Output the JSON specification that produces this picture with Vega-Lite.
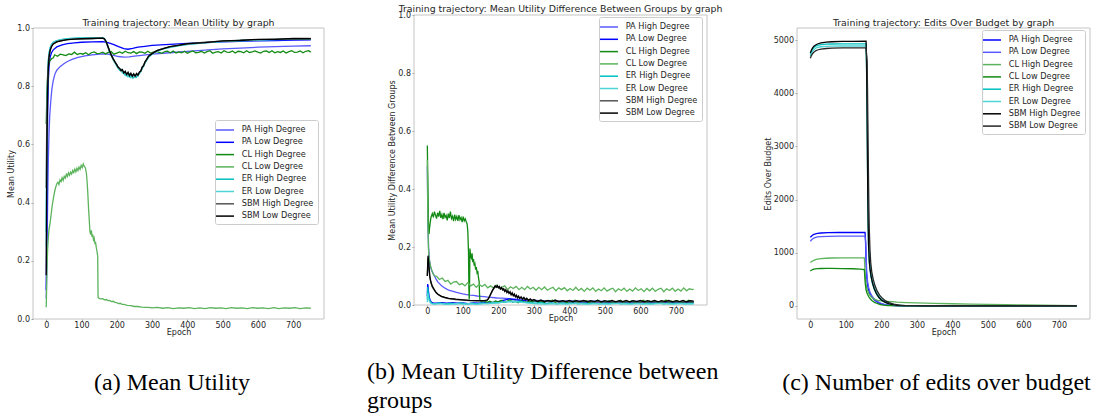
{
"$schema": "https://vega.github.io/schema/vega-lite/v6.json",
"autosize": {"type": "pad"},
"padding": {"left": 7, "top": 3, "right": 0, "bottom": 0},
"background": "white",
"config": {
 "font": "DejaVu Sans",
 "view": {"stroke": null},
 "axis": {"grid": false, "domain": false, "tickColor": "#808080", "tickSize": 2, "tickWidth": 0.8, "labelFont": "DejaVu Sans", "labelFontSize": 8, "labelColor": "#262626", "labelPadding": 1.5, "labelOverlap": false, "labelFlush": false, "titleFont": "DejaVu Sans", "titleFontSize": 8, "titleFontWeight": "normal", "titleColor": "#262626", "titlePadding": 1},
 "axisX": {"labelPadding": 0, "titlePadding": -1},
 "title": {"font": "DejaVu Sans", "fontSize": 9.4, "fontWeight": "normal", "color": "#262626"},
 "legend": {"orient": "none", "title": null, "symbolType": "M-1.8,0H1.8", "symbolSize": 100, "symbolStrokeWidth": 1.5, "labelFont": "DejaVu Sans", "labelFontSize": 8.2, "labelColor": "#262626", "labelOffset": 10.7, "rowPadding": 2.3, "padding": 4, "strokeColor": "#cccccc", "fillColor": "#ffffff", "cornerRadius": 2, "labelLimit": 200}
},
"resolve": {"scale": {"x": "independent", "y": "independent", "color": "independent"}, "legend": {"color": "independent"}, "axis": {"x": "independent", "y": "independent"}},
"columns": 3,
"spacing": {"row": 0, "column": 90},
"bounds": "flush",
"concat": [
 {"width": 291, "height": 304,
  "title": {"text": "Training trajectory: Mean Utility by graph", "offset": -13.5},
  "layer": [
   {"data": {"values": [{"f": 1}]}, "mark": {"type": "rect", "fill": null, "stroke": "#c4c4c4", "strokeWidth": 1},
    "encoding": {"x": {"datum": -37.5, "type": "quantitative"}, "x2": {"datum": 787.5}, "y": {"datum": 0, "type": "quantitative"}, "y2": {"datum": 1}}},
   {"data": {"name": "util"},
    "mark": {"type": "line", "strokeWidth": 1.3, "clip": true},
    "encoding": {
     "x": {"field": "e", "type": "quantitative", "scale": {"domain": [-37.5, 787.5], "nice": false, "zero": false}, "axis": {"title": "Epoch", "values": [0,100,200,300,400,500,600,700]}},
     "y": {"field": "v", "type": "quantitative", "scale": {"domain": [0, 1], "nice": false, "range": [304, 13]}, "axis": {"title": "Mean Utility", "values": [0,0.2,0.4,0.6,0.8,1.0], "format": ".1f"}},
     "color": {"field": "s", "type": "nominal", "scale": {"domain": ["PA High Degree","PA Low Degree","CL High Degree","CL Low Degree","ER High Degree","ER Low Degree","SBM High Degree","SBM Low Degree"], "range": ["#5a5aff","#0000ff","#138a13","#5cb35c","#00bfbf","#4dd4d4","#555555","#000000"]}, "legend": {"legendX": 182, "legendY": 105}}
    }}
  ]},
 {"width": 293, "height": 304,
  "title": {"text": "Training trajectory: Mean Utility Difference Between Groups by graph", "offset": -3},
  "layer": [
   {"data": {"values": [{"f": 1}]}, "mark": {"type": "rect", "fill": null, "stroke": "#c4c4c4", "strokeWidth": 1},
    "encoding": {"x": {"datum": -37.5, "type": "quantitative"}, "x2": {"datum": 787.5}, "y": {"datum": 0, "type": "quantitative"}, "y2": {"datum": 1}}},
   {"data": {"name": "diff"},
    "mark": {"type": "line", "strokeWidth": 1.3, "clip": true},
    "encoding": {
     "x": {"field": "e", "type": "quantitative", "scale": {"domain": [-37.5, 787.5], "nice": false, "zero": false}, "axis": {"title": "Epoch", "values": [0,100,200,300,400,500,600,700], "offset": -14}},
     "y": {"field": "v", "type": "quantitative", "scale": {"domain": [0, 1], "nice": false, "range": [290, 0]}, "axis": {"title": "Mean Utility Difference Between Groups", "values": [0,0.2,0.4,0.6,0.8,1.0], "format": ".1f"}},
     "color": {"field": "s", "type": "nominal", "scale": {"domain": ["PA High Degree","PA Low Degree","CL High Degree","CL Low Degree","ER High Degree","ER Low Degree","SBM High Degree","SBM Low Degree"], "range": ["#5a5aff","#0000ff","#138a13","#5cb35c","#00bfbf","#4dd4d4","#555555","#000000"]}, "legend": {"legendX": 185, "legendY": 2}}
    }}
  ]},
 {"width": 293, "height": 304,
  "title": {"text": "Training trajectory: Edits Over Budget by graph", "offset": -13.5},
  "layer": [
   {"data": {"values": [{"f": 1}]}, "mark": {"type": "rect", "fill": null, "stroke": "#c4c4c4", "strokeWidth": 1},
    "encoding": {"x": {"datum": -37.5, "type": "quantitative"}, "x2": {"datum": 787.5}, "y": {"datum": -249, "type": "quantitative"}, "y2": {"datum": 5229}}},
   {"data": {"name": "edits"},
    "mark": {"type": "line", "strokeWidth": 1.3, "clip": true},
    "encoding": {
     "x": {"field": "e", "type": "quantitative", "scale": {"domain": [-37.5, 787.5], "nice": false, "zero": false}, "axis": {"title": "Epoch", "values": [0,100,200,300,400,500,600,700]}},
     "y": {"field": "v", "type": "quantitative", "scale": {"domain": [-249, 5229], "nice": false, "zero": false, "range": [304, 13]}, "axis": {"title": "Edits Over Budget", "values": [0,1000,2000,3000,4000,5000], "format": "d"}},
     "color": {"field": "s", "type": "nominal", "scale": {"domain": ["PA High Degree","PA Low Degree","CL High Degree","CL Low Degree","ER High Degree","ER Low Degree","SBM High Degree","SBM Low Degree"], "range": ["#0000ff","#5a5aff","#5cb35c","#138a13","#00bfbf","#4dd4d4","#000000","#262626"]}, "legend": {"legendX": 185, "legendY": 15}}
    }}
  ]},
 {"width": 291, "height": 100, "data": {"values": [{"t": "(a) Mean Utility"}]}, "mark": {"type": "text", "font": "Liberation Serif", "fontSize": 24, "color": "#000000", "baseline": "middle", "dy": 14, "dx": -6.5}, "encoding": {"text": {"field": "t"}}},
 {"width": 293, "height": 100, "data": {"values": [{"t": "(b) Mean Utility Difference between\ngroups"}]}, "mark": {"type": "text", "font": "Liberation Serif", "fontSize": 24, "color": "#000000", "baseline": "top", "align": "left", "lineBreak": "\n", "lineHeight": 29, "dy": -9, "dx": -193.5}, "encoding": {"text": {"field": "t"}}},
 {"width": 293, "height": 100, "data": {"values": [{"t": "(c) Number of edits over budget"}]}, "mark": {"type": "text", "font": "Liberation Serif", "fontSize": 24, "color": "#000000", "baseline": "middle", "dy": 14, "dx": -7}, "encoding": {"text": {"field": "t"}}}
],
"datasets": {
"util": [
{"s":"PA High Degree","e":0,"v":0.07},{"s":"PA High Degree","e":2,"v":0.2},{"s":"PA High Degree","e":4,"v":0.4},{"s":"PA High Degree","e":6,"v":0.55},{"s":"PA High Degree","e":8,"v":0.64},{"s":"PA High Degree","e":10,"v":0.7},{"s":"PA High Degree","e":13,"v":0.75},{"s":"PA High Degree","e":16,"v":0.79},{"s":"PA High Degree","e":20,"v":0.82},{"s":"PA High Degree","e":25,"v":0.843},{"s":"PA High Degree","e":30,"v":0.855},{"s":"PA High Degree","e":40,"v":0.868},{"s":"PA High Degree","e":50,"v":0.877},{"s":"PA High Degree","e":60,"v":0.885},{"s":"PA High Degree","e":75,"v":0.893},{"s":"PA High Degree","e":90,"v":0.899},{"s":"PA High Degree","e":110,"v":0.904},{"s":"PA High Degree","e":130,"v":0.908},{"s":"PA High Degree","e":160,"v":0.911},{"s":"PA High Degree","e":175,"v":0.91},{"s":"PA High Degree","e":190,"v":0.906},{"s":"PA High Degree","e":205,"v":0.902},{"s":"PA High Degree","e":220,"v":0.9},{"s":"PA High Degree","e":235,"v":0.901},{"s":"PA High Degree","e":250,"v":0.903},{"s":"PA High Degree","e":270,"v":0.906},{"s":"PA High Degree","e":300,"v":0.91},{"s":"PA High Degree","e":350,"v":0.915},{"s":"PA High Degree","e":400,"v":0.92},{"s":"PA High Degree","e":450,"v":0.924},{"s":"PA High Degree","e":500,"v":0.928},{"s":"PA High Degree","e":550,"v":0.931},{"s":"PA High Degree","e":600,"v":0.934},{"s":"PA High Degree","e":650,"v":0.936},{"s":"PA High Degree","e":700,"v":0.938},{"s":"PA High Degree","e":750,"v":0.939},
{"s":"PA Low Degree","e":0,"v":0.1},{"s":"PA Low Degree","e":2,"v":0.45},{"s":"PA Low Degree","e":4,"v":0.7},{"s":"PA Low Degree","e":6,"v":0.82},{"s":"PA Low Degree","e":8,"v":0.87},{"s":"PA Low Degree","e":11,"v":0.9},{"s":"PA Low Degree","e":15,"v":0.915},{"s":"PA Low Degree","e":20,"v":0.925},{"s":"PA Low Degree","e":30,"v":0.935},{"s":"PA Low Degree","e":45,"v":0.942},{"s":"PA Low Degree","e":60,"v":0.946},{"s":"PA Low Degree","e":80,"v":0.949},{"s":"PA Low Degree","e":100,"v":0.951},{"s":"PA Low Degree","e":130,"v":0.952},{"s":"PA Low Degree","e":160,"v":0.953},{"s":"PA Low Degree","e":175,"v":0.95},{"s":"PA Low Degree","e":190,"v":0.944},{"s":"PA Low Degree","e":205,"v":0.936},{"s":"PA Low Degree","e":220,"v":0.929},{"s":"PA Low Degree","e":232,"v":0.927},{"s":"PA Low Degree","e":245,"v":0.93},{"s":"PA Low Degree","e":260,"v":0.934},{"s":"PA Low Degree","e":280,"v":0.937},{"s":"PA Low Degree","e":300,"v":0.94},{"s":"PA Low Degree","e":350,"v":0.944},{"s":"PA Low Degree","e":400,"v":0.947},{"s":"PA Low Degree","e":450,"v":0.95},{"s":"PA Low Degree","e":500,"v":0.952},{"s":"PA Low Degree","e":550,"v":0.954},{"s":"PA Low Degree","e":600,"v":0.956},{"s":"PA Low Degree","e":650,"v":0.957},{"s":"PA Low Degree","e":700,"v":0.958},{"s":"PA Low Degree","e":750,"v":0.959},
{"s":"CL High Degree","e":0,"v":0.67},{"s":"CL High Degree","e":2,"v":0.78},{"s":"CL High Degree","e":4,"v":0.84},{"s":"CL High Degree","e":6,"v":0.87},{"s":"CL High Degree","e":9,"v":0.885},{"s":"CL High Degree","e":12,"v":0.89},{"s":"CL High Degree","e":16,"v":0.895},{"s":"CL High Degree","e":20,"v":0.898},{"s":"CL High Degree","e":24,"v":0.908},{"s":"CL High Degree","e":32,"v":0.903},{"s":"CL High Degree","e":40,"v":0.91},{"s":"CL High Degree","e":48,"v":0.908},{"s":"CL High Degree","e":56,"v":0.905},{"s":"CL High Degree","e":64,"v":0.911},{"s":"CL High Degree","e":72,"v":0.909},{"s":"CL High Degree","e":80,"v":0.917},{"s":"CL High Degree","e":88,"v":0.909},{"s":"CL High Degree","e":96,"v":0.913},{"s":"CL High Degree","e":104,"v":0.91},{"s":"CL High Degree","e":112,"v":0.915},{"s":"CL High Degree","e":120,"v":0.908},{"s":"CL High Degree","e":128,"v":0.915},{"s":"CL High Degree","e":136,"v":0.918},{"s":"CL High Degree","e":144,"v":0.912},{"s":"CL High Degree","e":152,"v":0.913},{"s":"CL High Degree","e":160,"v":0.917},{"s":"CL High Degree","e":168,"v":0.911},{"s":"CL High Degree","e":176,"v":0.916},{"s":"CL High Degree","e":184,"v":0.919},{"s":"CL High Degree","e":192,"v":0.91},{"s":"CL High Degree","e":200,"v":0.914},{"s":"CL High Degree","e":208,"v":0.918},{"s":"CL High Degree","e":216,"v":0.913},{"s":"CL High Degree","e":224,"v":0.92},{"s":"CL High Degree","e":232,"v":0.915},{"s":"CL High Degree","e":240,"v":0.914},{"s":"CL High Degree","e":248,"v":0.919},{"s":"CL High Degree","e":256,"v":0.912},{"s":"CL High Degree","e":264,"v":0.918},{"s":"CL High Degree","e":272,"v":0.917},{"s":"CL High Degree","e":280,"v":0.913},{"s":"CL High Degree","e":288,"v":0.92},{"s":"CL High Degree","e":296,"v":0.914},{"s":"CL High Degree","e":304,"v":0.917},{"s":"CL High Degree","e":312,"v":0.92},{"s":"CL High Degree","e":320,"v":0.916},{"s":"CL High Degree","e":328,"v":0.913},{"s":"CL High Degree","e":336,"v":0.919},{"s":"CL High Degree","e":344,"v":0.92},{"s":"CL High Degree","e":352,"v":0.915},{"s":"CL High Degree","e":360,"v":0.921},{"s":"CL High Degree","e":368,"v":0.914},{"s":"CL High Degree","e":376,"v":0.918},{"s":"CL High Degree","e":384,"v":0.915},{"s":"CL High Degree","e":392,"v":0.92},{"s":"CL High Degree","e":400,"v":0.913},{"s":"CL High Degree","e":408,"v":0.918},{"s":"CL High Degree","e":416,"v":0.921},{"s":"CL High Degree","e":424,"v":0.915},{"s":"CL High Degree","e":432,"v":0.916},{"s":"CL High Degree","e":440,"v":0.92},{"s":"CL High Degree","e":448,"v":0.914},{"s":"CL High Degree","e":456,"v":0.919},{"s":"CL High Degree","e":464,"v":0.922},{"s":"CL High Degree","e":472,"v":0.913},{"s":"CL High Degree","e":480,"v":0.917},{"s":"CL High Degree","e":488,"v":0.919},{"s":"CL High Degree","e":496,"v":0.914},{"s":"CL High Degree","e":504,"v":0.922},{"s":"CL High Degree","e":512,"v":0.917},{"s":"CL High Degree","e":520,"v":0.916},{"s":"CL High Degree","e":528,"v":0.921},{"s":"CL High Degree","e":536,"v":0.914},{"s":"CL High Degree","e":544,"v":0.92},{"s":"CL High Degree","e":552,"v":0.919},{"s":"CL High Degree","e":560,"v":0.915},{"s":"CL High Degree","e":568,"v":0.922},{"s":"CL High Degree","e":576,"v":0.916},{"s":"CL High Degree","e":584,"v":0.918},{"s":"CL High Degree","e":592,"v":0.921},{"s":"CL High Degree","e":600,"v":0.917},{"s":"CL High Degree","e":608,"v":0.914},{"s":"CL High Degree","e":616,"v":0.92},{"s":"CL High Degree","e":624,"v":0.921},{"s":"CL High Degree","e":632,"v":0.916},{"s":"CL High Degree","e":640,"v":0.922},{"s":"CL High Degree","e":648,"v":0.915},{"s":"CL High Degree","e":656,"v":0.919},{"s":"CL High Degree","e":664,"v":0.916},{"s":"CL High Degree","e":672,"v":0.921},{"s":"CL High Degree","e":680,"v":0.914},{"s":"CL High Degree","e":688,"v":0.919},{"s":"CL High Degree","e":696,"v":0.922},{"s":"CL High Degree","e":704,"v":0.916},{"s":"CL High Degree","e":712,"v":0.917},{"s":"CL High Degree","e":720,"v":0.921},{"s":"CL High Degree","e":728,"v":0.915},{"s":"CL High Degree","e":736,"v":0.92},{"s":"CL High Degree","e":744,"v":0.922},{"s":"CL High Degree","e":750,"v":0.917},
{"s":"CL Low Degree","e":0,"v":0.04},{"s":"CL Low Degree","e":1,"v":0.1},{"s":"CL Low Degree","e":2,"v":0.17},{"s":"CL Low Degree","e":4,"v":0.24},{"s":"CL Low Degree","e":6,"v":0.28},{"s":"CL Low Degree","e":8,"v":0.31},{"s":"CL Low Degree","e":11,"v":0.33},{"s":"CL Low Degree","e":14,"v":0.36},{"s":"CL Low Degree","e":17,"v":0.39},{"s":"CL Low Degree","e":21,"v":0.42},{"s":"CL Low Degree","e":25,"v":0.445},{"s":"CL Low Degree","e":30,"v":0.465},{"s":"CL Low Degree","e":33,"v":0.47},{"s":"CL Low Degree","e":36,"v":0.462},{"s":"CL Low Degree","e":39,"v":0.478},{"s":"CL Low Degree","e":42,"v":0.472},{"s":"CL Low Degree","e":45,"v":0.485},{"s":"CL Low Degree","e":48,"v":0.476},{"s":"CL Low Degree","e":51,"v":0.49},{"s":"CL Low Degree","e":54,"v":0.484},{"s":"CL Low Degree","e":57,"v":0.497},{"s":"CL Low Degree","e":60,"v":0.49},{"s":"CL Low Degree","e":63,"v":0.502},{"s":"CL Low Degree","e":66,"v":0.494},{"s":"CL Low Degree","e":69,"v":0.505},{"s":"CL Low Degree","e":72,"v":0.498},{"s":"CL Low Degree","e":75,"v":0.51},{"s":"CL Low Degree","e":78,"v":0.503},{"s":"CL Low Degree","e":81,"v":0.515},{"s":"CL Low Degree","e":84,"v":0.506},{"s":"CL Low Degree","e":87,"v":0.518},{"s":"CL Low Degree","e":90,"v":0.51},{"s":"CL Low Degree","e":93,"v":0.522},{"s":"CL Low Degree","e":96,"v":0.514},{"s":"CL Low Degree","e":99,"v":0.528},{"s":"CL Low Degree","e":102,"v":0.52},{"s":"CL Low Degree","e":105,"v":0.533},{"s":"CL Low Degree","e":108,"v":0.524},{"s":"CL Low Degree","e":111,"v":0.52},{"s":"CL Low Degree","e":114,"v":0.5},{"s":"CL Low Degree","e":116,"v":0.47},{"s":"CL Low Degree","e":118,"v":0.43},{"s":"CL Low Degree","e":120,"v":0.38},{"s":"CL Low Degree","e":122,"v":0.34},{"s":"CL Low Degree","e":124,"v":0.3},{"s":"CL Low Degree","e":126,"v":0.29},{"s":"CL Low Degree","e":128,"v":0.305},{"s":"CL Low Degree","e":130,"v":0.282},{"s":"CL Low Degree","e":132,"v":0.29},{"s":"CL Low Degree","e":134,"v":0.272},{"s":"CL Low Degree","e":136,"v":0.278},{"s":"CL Low Degree","e":138,"v":0.26},{"s":"CL Low Degree","e":140,"v":0.262},{"s":"CL Low Degree","e":142,"v":0.245},{"s":"CL Low Degree","e":144,"v":0.232},{"s":"CL Low Degree","e":146,"v":0.215},{"s":"CL Low Degree","e":147,"v":0.075},{"s":"CL Low Degree","e":150,"v":0.071},{"s":"CL Low Degree","e":155,"v":0.069},{"s":"CL Low Degree","e":160,"v":0.07},{"s":"CL Low Degree","e":165,"v":0.066},{"s":"CL Low Degree","e":170,"v":0.067},{"s":"CL Low Degree","e":175,"v":0.063},{"s":"CL Low Degree","e":180,"v":0.064},{"s":"CL Low Degree","e":185,"v":0.06},{"s":"CL Low Degree","e":190,"v":0.061},{"s":"CL Low Degree","e":195,"v":0.057},{"s":"CL Low Degree","e":200,"v":0.056},{"s":"CL Low Degree","e":205,"v":0.053},{"s":"CL Low Degree","e":210,"v":0.054},{"s":"CL Low Degree","e":215,"v":0.05},{"s":"CL Low Degree","e":220,"v":0.05},{"s":"CL Low Degree","e":230,"v":0.047},{"s":"CL Low Degree","e":240,"v":0.046},{"s":"CL Low Degree","e":250,"v":0.043},{"s":"CL Low Degree","e":260,"v":0.043},{"s":"CL Low Degree","e":270,"v":0.041},{"s":"CL Low Degree","e":280,"v":0.04},{"s":"CL Low Degree","e":290,"v":0.04},{"s":"CL Low Degree","e":300,"v":0.038},{"s":"CL Low Degree","e":315,"v":0.04},{"s":"CL Low Degree","e":330,"v":0.037},{"s":"CL Low Degree","e":345,"v":0.039},{"s":"CL Low Degree","e":360,"v":0.036},{"s":"CL Low Degree","e":375,"v":0.038},{"s":"CL Low Degree","e":390,"v":0.037},{"s":"CL Low Degree","e":405,"v":0.039},{"s":"CL Low Degree","e":420,"v":0.036},{"s":"CL Low Degree","e":435,"v":0.038},{"s":"CL Low Degree","e":450,"v":0.036},{"s":"CL Low Degree","e":465,"v":0.039},{"s":"CL Low Degree","e":480,"v":0.037},{"s":"CL Low Degree","e":495,"v":0.038},{"s":"CL Low Degree","e":510,"v":0.036},{"s":"CL Low Degree","e":525,"v":0.039},{"s":"CL Low Degree","e":540,"v":0.037},{"s":"CL Low Degree","e":555,"v":0.038},{"s":"CL Low Degree","e":570,"v":0.036},{"s":"CL Low Degree","e":585,"v":0.039},{"s":"CL Low Degree","e":600,"v":0.037},{"s":"CL Low Degree","e":615,"v":0.038},{"s":"CL Low Degree","e":630,"v":0.036},{"s":"CL Low Degree","e":645,"v":0.039},{"s":"CL Low Degree","e":660,"v":0.036},{"s":"CL Low Degree","e":675,"v":0.038},{"s":"CL Low Degree","e":690,"v":0.037},{"s":"CL Low Degree","e":705,"v":0.039},{"s":"CL Low Degree","e":720,"v":0.036},{"s":"CL Low Degree","e":735,"v":0.038},{"s":"CL Low Degree","e":750,"v":0.037},
{"s":"ER High Degree","e":0,"v":0.3},{"s":"ER High Degree","e":1,"v":0.55},{"s":"ER High Degree","e":2,"v":0.7},{"s":"ER High Degree","e":4,"v":0.83},{"s":"ER High Degree","e":6,"v":0.89},{"s":"ER High Degree","e":8,"v":0.915},{"s":"ER High Degree","e":11,"v":0.932},{"s":"ER High Degree","e":15,"v":0.944},{"s":"ER High Degree","e":20,"v":0.951},{"s":"ER High Degree","e":30,"v":0.957},{"s":"ER High Degree","e":45,"v":0.961},{"s":"ER High Degree","e":60,"v":0.963},{"s":"ER High Degree","e":80,"v":0.965},{"s":"ER High Degree","e":100,"v":0.966},{"s":"ER High Degree","e":130,"v":0.967},{"s":"ER High Degree","e":160,"v":0.967},{"s":"ER High Degree","e":165,"v":0.964},{"s":"ER High Degree","e":170,"v":0.953},{"s":"ER High Degree","e":175,"v":0.936},{"s":"ER High Degree","e":180,"v":0.919},{"s":"ER High Degree","e":185,"v":0.905},{"s":"ER High Degree","e":190,"v":0.892},{"s":"ER High Degree","e":195,"v":0.882},{"s":"ER High Degree","e":200,"v":0.87},{"s":"ER High Degree","e":204,"v":0.865},{"s":"ER High Degree","e":208,"v":0.855},{"s":"ER High Degree","e":212,"v":0.858},{"s":"ER High Degree","e":216,"v":0.846},{"s":"ER High Degree","e":220,"v":0.849},{"s":"ER High Degree","e":224,"v":0.838},{"s":"ER High Degree","e":228,"v":0.844},{"s":"ER High Degree","e":232,"v":0.833},{"s":"ER High Degree","e":236,"v":0.841},{"s":"ER High Degree","e":240,"v":0.83},{"s":"ER High Degree","e":244,"v":0.838},{"s":"ER High Degree","e":248,"v":0.829},{"s":"ER High Degree","e":252,"v":0.836},{"s":"ER High Degree","e":256,"v":0.831},{"s":"ER High Degree","e":260,"v":0.839},{"s":"ER High Degree","e":264,"v":0.842},{"s":"ER High Degree","e":268,"v":0.852},{"s":"ER High Degree","e":272,"v":0.86},{"s":"ER High Degree","e":276,"v":0.87},{"s":"ER High Degree","e":280,"v":0.88},{"s":"ER High Degree","e":285,"v":0.891},{"s":"ER High Degree","e":290,"v":0.9},{"s":"ER High Degree","e":300,"v":0.911},{"s":"ER High Degree","e":315,"v":0.921},{"s":"ER High Degree","e":330,"v":0.928},{"s":"ER High Degree","e":350,"v":0.934},{"s":"ER High Degree","e":375,"v":0.94},{"s":"ER High Degree","e":400,"v":0.944},{"s":"ER High Degree","e":450,"v":0.95},{"s":"ER High Degree","e":500,"v":0.954},{"s":"ER High Degree","e":550,"v":0.957},{"s":"ER High Degree","e":600,"v":0.959},{"s":"ER High Degree","e":650,"v":0.961},{"s":"ER High Degree","e":700,"v":0.962},{"s":"ER High Degree","e":750,"v":0.963},
{"s":"ER Low Degree","e":0,"v":0.25},{"s":"ER Low Degree","e":1,"v":0.5},{"s":"ER Low Degree","e":2,"v":0.68},{"s":"ER Low Degree","e":4,"v":0.82},{"s":"ER Low Degree","e":6,"v":0.885},{"s":"ER Low Degree","e":8,"v":0.912},{"s":"ER Low Degree","e":11,"v":0.93},{"s":"ER Low Degree","e":15,"v":0.943},{"s":"ER Low Degree","e":20,"v":0.95},{"s":"ER Low Degree","e":30,"v":0.956},{"s":"ER Low Degree","e":45,"v":0.96},{"s":"ER Low Degree","e":60,"v":0.962},{"s":"ER Low Degree","e":80,"v":0.964},{"s":"ER Low Degree","e":100,"v":0.965},{"s":"ER Low Degree","e":130,"v":0.966},{"s":"ER Low Degree","e":160,"v":0.966},{"s":"ER Low Degree","e":165,"v":0.963},{"s":"ER Low Degree","e":170,"v":0.951},{"s":"ER Low Degree","e":175,"v":0.933},{"s":"ER Low Degree","e":180,"v":0.917},{"s":"ER Low Degree","e":185,"v":0.903},{"s":"ER Low Degree","e":190,"v":0.89},{"s":"ER Low Degree","e":195,"v":0.88},{"s":"ER Low Degree","e":200,"v":0.869},{"s":"ER Low Degree","e":204,"v":0.861},{"s":"ER Low Degree","e":208,"v":0.857},{"s":"ER Low Degree","e":212,"v":0.852},{"s":"ER Low Degree","e":216,"v":0.85},{"s":"ER Low Degree","e":220,"v":0.843},{"s":"ER Low Degree","e":224,"v":0.847},{"s":"ER Low Degree","e":228,"v":0.836},{"s":"ER Low Degree","e":232,"v":0.842},{"s":"ER Low Degree","e":236,"v":0.832},{"s":"ER Low Degree","e":240,"v":0.839},{"s":"ER Low Degree","e":244,"v":0.828},{"s":"ER Low Degree","e":248,"v":0.836},{"s":"ER Low Degree","e":252,"v":0.83},{"s":"ER Low Degree","e":256,"v":0.838},{"s":"ER Low Degree","e":260,"v":0.835},{"s":"ER Low Degree","e":264,"v":0.845},{"s":"ER Low Degree","e":268,"v":0.849},{"s":"ER Low Degree","e":272,"v":0.862},{"s":"ER Low Degree","e":276,"v":0.868},{"s":"ER Low Degree","e":280,"v":0.879},{"s":"ER Low Degree","e":285,"v":0.889},{"s":"ER Low Degree","e":290,"v":0.899},{"s":"ER Low Degree","e":300,"v":0.91},{"s":"ER Low Degree","e":315,"v":0.92},{"s":"ER Low Degree","e":330,"v":0.927},{"s":"ER Low Degree","e":350,"v":0.933},{"s":"ER Low Degree","e":375,"v":0.939},{"s":"ER Low Degree","e":400,"v":0.943},{"s":"ER Low Degree","e":450,"v":0.949},{"s":"ER Low Degree","e":500,"v":0.953},{"s":"ER Low Degree","e":550,"v":0.956},{"s":"ER Low Degree","e":600,"v":0.958},{"s":"ER Low Degree","e":650,"v":0.96},{"s":"ER Low Degree","e":700,"v":0.961},{"s":"ER Low Degree","e":750,"v":0.962},
{"s":"SBM High Degree","e":0,"v":0.45},{"s":"SBM High Degree","e":1,"v":0.62},{"s":"SBM High Degree","e":2,"v":0.72},{"s":"SBM High Degree","e":4,"v":0.83},{"s":"SBM High Degree","e":6,"v":0.88},{"s":"SBM High Degree","e":8,"v":0.905},{"s":"SBM High Degree","e":11,"v":0.925},{"s":"SBM High Degree","e":15,"v":0.938},{"s":"SBM High Degree","e":20,"v":0.946},{"s":"SBM High Degree","e":30,"v":0.953},{"s":"SBM High Degree","e":45,"v":0.957},{"s":"SBM High Degree","e":60,"v":0.96},{"s":"SBM High Degree","e":80,"v":0.962},{"s":"SBM High Degree","e":100,"v":0.963},{"s":"SBM High Degree","e":130,"v":0.964},{"s":"SBM High Degree","e":160,"v":0.965},{"s":"SBM High Degree","e":165,"v":0.962},{"s":"SBM High Degree","e":170,"v":0.952},{"s":"SBM High Degree","e":175,"v":0.935},{"s":"SBM High Degree","e":180,"v":0.918},{"s":"SBM High Degree","e":185,"v":0.905},{"s":"SBM High Degree","e":190,"v":0.893},{"s":"SBM High Degree","e":195,"v":0.884},{"s":"SBM High Degree","e":200,"v":0.873},{"s":"SBM High Degree","e":204,"v":0.866},{"s":"SBM High Degree","e":208,"v":0.86},{"s":"SBM High Degree","e":212,"v":0.856},{"s":"SBM High Degree","e":216,"v":0.853},{"s":"SBM High Degree","e":220,"v":0.849},{"s":"SBM High Degree","e":224,"v":0.846},{"s":"SBM High Degree","e":228,"v":0.842},{"s":"SBM High Degree","e":232,"v":0.844},{"s":"SBM High Degree","e":236,"v":0.838},{"s":"SBM High Degree","e":240,"v":0.841},{"s":"SBM High Degree","e":244,"v":0.835},{"s":"SBM High Degree","e":248,"v":0.84},{"s":"SBM High Degree","e":252,"v":0.834},{"s":"SBM High Degree","e":256,"v":0.841},{"s":"SBM High Degree","e":260,"v":0.84},{"s":"SBM High Degree","e":264,"v":0.847},{"s":"SBM High Degree","e":268,"v":0.853},{"s":"SBM High Degree","e":272,"v":0.864},{"s":"SBM High Degree","e":276,"v":0.872},{"s":"SBM High Degree","e":280,"v":0.883},{"s":"SBM High Degree","e":285,"v":0.893},{"s":"SBM High Degree","e":290,"v":0.902},{"s":"SBM High Degree","e":300,"v":0.913},{"s":"SBM High Degree","e":315,"v":0.922},{"s":"SBM High Degree","e":330,"v":0.929},{"s":"SBM High Degree","e":350,"v":0.935},{"s":"SBM High Degree","e":375,"v":0.941},{"s":"SBM High Degree","e":400,"v":0.945},{"s":"SBM High Degree","e":450,"v":0.951},{"s":"SBM High Degree","e":500,"v":0.955},{"s":"SBM High Degree","e":550,"v":0.958},{"s":"SBM High Degree","e":600,"v":0.96},{"s":"SBM High Degree","e":650,"v":0.962},{"s":"SBM High Degree","e":700,"v":0.963},{"s":"SBM High Degree","e":750,"v":0.964},
{"s":"SBM Low Degree","e":0,"v":0.15},{"s":"SBM Low Degree","e":1,"v":0.4},{"s":"SBM Low Degree","e":2,"v":0.6},{"s":"SBM Low Degree","e":4,"v":0.78},{"s":"SBM Low Degree","e":6,"v":0.86},{"s":"SBM Low Degree","e":8,"v":0.9},{"s":"SBM Low Degree","e":11,"v":0.922},{"s":"SBM Low Degree","e":15,"v":0.936},{"s":"SBM Low Degree","e":20,"v":0.945},{"s":"SBM Low Degree","e":30,"v":0.952},{"s":"SBM Low Degree","e":45,"v":0.957},{"s":"SBM Low Degree","e":60,"v":0.96},{"s":"SBM Low Degree","e":80,"v":0.962},{"s":"SBM Low Degree","e":100,"v":0.963},{"s":"SBM Low Degree","e":130,"v":0.964},{"s":"SBM Low Degree","e":160,"v":0.965},{"s":"SBM Low Degree","e":165,"v":0.963},{"s":"SBM Low Degree","e":170,"v":0.953},{"s":"SBM Low Degree","e":175,"v":0.937},{"s":"SBM Low Degree","e":180,"v":0.92},{"s":"SBM Low Degree","e":185,"v":0.906},{"s":"SBM Low Degree","e":190,"v":0.894},{"s":"SBM Low Degree","e":195,"v":0.883},{"s":"SBM Low Degree","e":200,"v":0.874},{"s":"SBM Low Degree","e":204,"v":0.864},{"s":"SBM Low Degree","e":208,"v":0.862},{"s":"SBM Low Degree","e":212,"v":0.853},{"s":"SBM Low Degree","e":216,"v":0.857},{"s":"SBM Low Degree","e":220,"v":0.845},{"s":"SBM Low Degree","e":224,"v":0.851},{"s":"SBM Low Degree","e":228,"v":0.84},{"s":"SBM Low Degree","e":232,"v":0.848},{"s":"SBM Low Degree","e":236,"v":0.836},{"s":"SBM Low Degree","e":240,"v":0.845},{"s":"SBM Low Degree","e":244,"v":0.834},{"s":"SBM Low Degree","e":248,"v":0.843},{"s":"SBM Low Degree","e":252,"v":0.835},{"s":"SBM Low Degree","e":256,"v":0.844},{"s":"SBM Low Degree","e":260,"v":0.838},{"s":"SBM Low Degree","e":264,"v":0.849},{"s":"SBM Low Degree","e":268,"v":0.851},{"s":"SBM Low Degree","e":272,"v":0.866},{"s":"SBM Low Degree","e":276,"v":0.87},{"s":"SBM Low Degree","e":280,"v":0.884},{"s":"SBM Low Degree","e":285,"v":0.892},{"s":"SBM Low Degree","e":290,"v":0.903},{"s":"SBM Low Degree","e":300,"v":0.912},{"s":"SBM Low Degree","e":315,"v":0.923},{"s":"SBM Low Degree","e":330,"v":0.928},{"s":"SBM Low Degree","e":350,"v":0.936},{"s":"SBM Low Degree","e":375,"v":0.94},{"s":"SBM Low Degree","e":400,"v":0.946},{"s":"SBM Low Degree","e":450,"v":0.95},{"s":"SBM Low Degree","e":500,"v":0.956},{"s":"SBM Low Degree","e":550,"v":0.957},{"s":"SBM Low Degree","e":600,"v":0.961},{"s":"SBM Low Degree","e":650,"v":0.961},{"s":"SBM Low Degree","e":700,"v":0.964},{"s":"SBM Low Degree","e":750,"v":0.963}
],
"diff": [
{"s":"PA High Degree","e":0,"v":0.48},{"s":"PA High Degree","e":1,"v":0.36},{"s":"PA High Degree","e":2,"v":0.26},{"s":"PA High Degree","e":4,"v":0.19},{"s":"PA High Degree","e":6,"v":0.155},{"s":"PA High Degree","e":9,"v":0.132},{"s":"PA High Degree","e":12,"v":0.12},{"s":"PA High Degree","e":16,"v":0.11},{"s":"PA High Degree","e":20,"v":0.1},{"s":"PA High Degree","e":25,"v":0.088},{"s":"PA High Degree","e":30,"v":0.079},{"s":"PA High Degree","e":35,"v":0.073},{"s":"PA High Degree","e":40,"v":0.066},{"s":"PA High Degree","e":50,"v":0.058},{"s":"PA High Degree","e":60,"v":0.051},{"s":"PA High Degree","e":70,"v":0.048},{"s":"PA High Degree","e":80,"v":0.044},{"s":"PA High Degree","e":90,"v":0.041},{"s":"PA High Degree","e":100,"v":0.038},{"s":"PA High Degree","e":110,"v":0.036},{"s":"PA High Degree","e":120,"v":0.034},{"s":"PA High Degree","e":130,"v":0.033},{"s":"PA High Degree","e":140,"v":0.031},{"s":"PA High Degree","e":150,"v":0.03},{"s":"PA High Degree","e":160,"v":0.029},{"s":"PA High Degree","e":170,"v":0.027},{"s":"PA High Degree","e":180,"v":0.026},{"s":"PA High Degree","e":190,"v":0.025},{"s":"PA High Degree","e":200,"v":0.024},{"s":"PA High Degree","e":210,"v":0.024},{"s":"PA High Degree","e":220,"v":0.023},{"s":"PA High Degree","e":230,"v":0.022},{"s":"PA High Degree","e":240,"v":0.021},{"s":"PA High Degree","e":250,"v":0.02},{"s":"PA High Degree","e":260,"v":0.019},{"s":"PA High Degree","e":270,"v":0.018},{"s":"PA High Degree","e":280,"v":0.017},{"s":"PA High Degree","e":290,"v":0.016},{"s":"PA High Degree","e":300,"v":0.016},{"s":"PA High Degree","e":325,"v":0.015},{"s":"PA High Degree","e":350,"v":0.014},{"s":"PA High Degree","e":400,"v":0.013},{"s":"PA High Degree","e":450,"v":0.012},{"s":"PA High Degree","e":500,"v":0.012},{"s":"PA High Degree","e":550,"v":0.011},{"s":"PA High Degree","e":600,"v":0.011},{"s":"PA High Degree","e":650,"v":0.011},{"s":"PA High Degree","e":700,"v":0.01},{"s":"PA High Degree","e":750,"v":0.01},
{"s":"PA Low Degree","e":0,"v":0.03},{"s":"PA Low Degree","e":1,"v":0.072},{"s":"PA Low Degree","e":2,"v":0.065},{"s":"PA Low Degree","e":3,"v":0.05},{"s":"PA Low Degree","e":5,"v":0.03},{"s":"PA Low Degree","e":8,"v":0.016},{"s":"PA Low Degree","e":12,"v":0.009},{"s":"PA Low Degree","e":16,"v":0.007},{"s":"PA Low Degree","e":25,"v":0.006},{"s":"PA Low Degree","e":40,"v":0.008},{"s":"PA Low Degree","e":55,"v":0.006},{"s":"PA Low Degree","e":70,"v":0.008},{"s":"PA Low Degree","e":85,"v":0.006},{"s":"PA Low Degree","e":100,"v":0.007},{"s":"PA Low Degree","e":115,"v":0.005},{"s":"PA Low Degree","e":130,"v":0.007},{"s":"PA Low Degree","e":145,"v":0.006},{"s":"PA Low Degree","e":160,"v":0.008},{"s":"PA Low Degree","e":175,"v":0.007},{"s":"PA Low Degree","e":190,"v":0.01},{"s":"PA Low Degree","e":200,"v":0.012},{"s":"PA Low Degree","e":210,"v":0.015},{"s":"PA Low Degree","e":220,"v":0.018},{"s":"PA Low Degree","e":230,"v":0.021},{"s":"PA Low Degree","e":240,"v":0.019},{"s":"PA Low Degree","e":250,"v":0.018},{"s":"PA Low Degree","e":260,"v":0.016},{"s":"PA Low Degree","e":270,"v":0.015},{"s":"PA Low Degree","e":280,"v":0.014},{"s":"PA Low Degree","e":300,"v":0.013},{"s":"PA Low Degree","e":320,"v":0.012},{"s":"PA Low Degree","e":350,"v":0.013},{"s":"PA Low Degree","e":380,"v":0.011},{"s":"PA Low Degree","e":410,"v":0.012},{"s":"PA Low Degree","e":440,"v":0.01},{"s":"PA Low Degree","e":470,"v":0.012},{"s":"PA Low Degree","e":500,"v":0.01},{"s":"PA Low Degree","e":530,"v":0.011},{"s":"PA Low Degree","e":560,"v":0.01},{"s":"PA Low Degree","e":590,"v":0.012},{"s":"PA Low Degree","e":620,"v":0.01},{"s":"PA Low Degree","e":650,"v":0.011},{"s":"PA Low Degree","e":680,"v":0.01},{"s":"PA Low Degree","e":710,"v":0.011},{"s":"PA Low Degree","e":750,"v":0.01},
{"s":"CL High Degree","e":0,"v":0.55},{"s":"CL High Degree","e":1,"v":0.47},{"s":"CL High Degree","e":2,"v":0.38},{"s":"CL High Degree","e":3,"v":0.3},{"s":"CL High Degree","e":4,"v":0.255},{"s":"CL High Degree","e":5,"v":0.245},{"s":"CL High Degree","e":6,"v":0.262},{"s":"CL High Degree","e":8,"v":0.282},{"s":"CL High Degree","e":10,"v":0.3},{"s":"CL High Degree","e":12,"v":0.308},{"s":"CL High Degree","e":14,"v":0.315},{"s":"CL High Degree","e":17,"v":0.302},{"s":"CL High Degree","e":20,"v":0.322},{"s":"CL High Degree","e":23,"v":0.31},{"s":"CL High Degree","e":26,"v":0.298},{"s":"CL High Degree","e":29,"v":0.318},{"s":"CL High Degree","e":32,"v":0.305},{"s":"CL High Degree","e":35,"v":0.325},{"s":"CL High Degree","e":38,"v":0.3},{"s":"CL High Degree","e":41,"v":0.312},{"s":"CL High Degree","e":44,"v":0.296},{"s":"CL High Degree","e":47,"v":0.318},{"s":"CL High Degree","e":50,"v":0.302},{"s":"CL High Degree","e":53,"v":0.309},{"s":"CL High Degree","e":56,"v":0.292},{"s":"CL High Degree","e":59,"v":0.315},{"s":"CL High Degree","e":62,"v":0.3},{"s":"CL High Degree","e":65,"v":0.322},{"s":"CL High Degree","e":68,"v":0.298},{"s":"CL High Degree","e":71,"v":0.306},{"s":"CL High Degree","e":74,"v":0.289},{"s":"CL High Degree","e":77,"v":0.312},{"s":"CL High Degree","e":80,"v":0.295},{"s":"CL High Degree","e":83,"v":0.305},{"s":"CL High Degree","e":86,"v":0.29},{"s":"CL High Degree","e":89,"v":0.31},{"s":"CL High Degree","e":92,"v":0.294},{"s":"CL High Degree","e":95,"v":0.302},{"s":"CL High Degree","e":98,"v":0.286},{"s":"CL High Degree","e":101,"v":0.305},{"s":"CL High Degree","e":104,"v":0.29},{"s":"CL High Degree","e":107,"v":0.297},{"s":"CL High Degree","e":110,"v":0.285},{"s":"CL High Degree","e":112,"v":0.28},{"s":"CL High Degree","e":114,"v":0.255},{"s":"CL High Degree","e":116,"v":0.18},{"s":"CL High Degree","e":117,"v":0.06},{"s":"CL High Degree","e":118,"v":0.02},{"s":"CL High Degree","e":119,"v":0.07},{"s":"CL High Degree","e":120,"v":0.195},{"s":"CL High Degree","e":122,"v":0.168},{"s":"CL High Degree","e":124,"v":0.162},{"s":"CL High Degree","e":126,"v":0.178},{"s":"CL High Degree","e":128,"v":0.148},{"s":"CL High Degree","e":130,"v":0.158},{"s":"CL High Degree","e":132,"v":0.136},{"s":"CL High Degree","e":134,"v":0.142},{"s":"CL High Degree","e":136,"v":0.122},{"s":"CL High Degree","e":138,"v":0.131},{"s":"CL High Degree","e":140,"v":0.112},{"s":"CL High Degree","e":142,"v":0.118},{"s":"CL High Degree","e":144,"v":0.095},{"s":"CL High Degree","e":146,"v":0.08},{"s":"CL High Degree","e":147,"v":0.04},{"s":"CL High Degree","e":148,"v":0.016},{"s":"CL High Degree","e":152,"v":0.012},{"s":"CL High Degree","e":160,"v":0.015},{"s":"CL High Degree","e":168,"v":0.009},{"s":"CL High Degree","e":176,"v":0.013},{"s":"CL High Degree","e":184,"v":0.008},{"s":"CL High Degree","e":192,"v":0.014},{"s":"CL High Degree","e":200,"v":0.01},{"s":"CL High Degree","e":208,"v":0.016},{"s":"CL High Degree","e":216,"v":0.009},{"s":"CL High Degree","e":224,"v":0.012},{"s":"CL High Degree","e":232,"v":0.018},{"s":"CL High Degree","e":240,"v":0.01},{"s":"CL High Degree","e":248,"v":0.013},{"s":"CL High Degree","e":256,"v":0.008},{"s":"CL High Degree","e":264,"v":0.015},{"s":"CL High Degree","e":272,"v":0.011},{"s":"CL High Degree","e":280,"v":0.009},{"s":"CL High Degree","e":288,"v":0.014},{"s":"CL High Degree","e":296,"v":0.01},{"s":"CL High Degree","e":304,"v":0.016},{"s":"CL High Degree","e":312,"v":0.009},{"s":"CL High Degree","e":320,"v":0.012},{"s":"CL High Degree","e":328,"v":0.008},{"s":"CL High Degree","e":336,"v":0.014},{"s":"CL High Degree","e":344,"v":0.01},{"s":"CL High Degree","e":352,"v":0.017},{"s":"CL High Degree","e":360,"v":0.009},{"s":"CL High Degree","e":368,"v":0.013},{"s":"CL High Degree","e":376,"v":0.01},{"s":"CL High Degree","e":384,"v":0.015},{"s":"CL High Degree","e":392,"v":0.008},{"s":"CL High Degree","e":400,"v":0.012},{"s":"CL High Degree","e":408,"v":0.01},{"s":"CL High Degree","e":416,"v":0.016},{"s":"CL High Degree","e":424,"v":0.009},{"s":"CL High Degree","e":432,"v":0.013},{"s":"CL High Degree","e":440,"v":0.011},{"s":"CL High Degree","e":448,"v":0.015},{"s":"CL High Degree","e":456,"v":0.008},{"s":"CL High Degree","e":464,"v":0.012},{"s":"CL High Degree","e":472,"v":0.01},{"s":"CL High Degree","e":480,"v":0.017},{"s":"CL High Degree","e":488,"v":0.009},{"s":"CL High Degree","e":496,"v":0.013},{"s":"CL High Degree","e":504,"v":0.01},{"s":"CL High Degree","e":512,"v":0.015},{"s":"CL High Degree","e":520,"v":0.008},{"s":"CL High Degree","e":528,"v":0.012},{"s":"CL High Degree","e":536,"v":0.011},{"s":"CL High Degree","e":544,"v":0.016},{"s":"CL High Degree","e":552,"v":0.009},{"s":"CL High Degree","e":560,"v":0.013},{"s":"CL High Degree","e":568,"v":0.01},{"s":"CL High Degree","e":576,"v":0.015},{"s":"CL High Degree","e":584,"v":0.008},{"s":"CL High Degree","e":592,"v":0.012},{"s":"CL High Degree","e":600,"v":0.01},{"s":"CL High Degree","e":608,"v":0.016},{"s":"CL High Degree","e":616,"v":0.009},{"s":"CL High Degree","e":624,"v":0.013},{"s":"CL High Degree","e":632,"v":0.011},{"s":"CL High Degree","e":640,"v":0.015},{"s":"CL High Degree","e":648,"v":0.008},{"s":"CL High Degree","e":656,"v":0.012},{"s":"CL High Degree","e":664,"v":0.01},{"s":"CL High Degree","e":672,"v":0.017},{"s":"CL High Degree","e":680,"v":0.009},{"s":"CL High Degree","e":688,"v":0.013},{"s":"CL High Degree","e":696,"v":0.01},{"s":"CL High Degree","e":704,"v":0.015},{"s":"CL High Degree","e":712,"v":0.009},{"s":"CL High Degree","e":720,"v":0.012},{"s":"CL High Degree","e":728,"v":0.011},{"s":"CL High Degree","e":736,"v":0.016},{"s":"CL High Degree","e":744,"v":0.009},{"s":"CL High Degree","e":750,"v":0.012},
{"s":"CL Low Degree","e":0,"v":0.5},{"s":"CL Low Degree","e":1,"v":0.36},{"s":"CL Low Degree","e":2,"v":0.26},{"s":"CL Low Degree","e":3,"v":0.2},{"s":"CL Low Degree","e":5,"v":0.16},{"s":"CL Low Degree","e":8,"v":0.14},{"s":"CL Low Degree","e":12,"v":0.122},{"s":"CL Low Degree","e":16,"v":0.108},{"s":"CL Low Degree","e":20,"v":0.1},{"s":"CL Low Degree","e":26,"v":0.099},{"s":"CL Low Degree","e":34,"v":0.088},{"s":"CL Low Degree","e":42,"v":0.093},{"s":"CL Low Degree","e":50,"v":0.081},{"s":"CL Low Degree","e":58,"v":0.085},{"s":"CL Low Degree","e":66,"v":0.072},{"s":"CL Low Degree","e":74,"v":0.079},{"s":"CL Low Degree","e":82,"v":0.081},{"s":"CL Low Degree","e":90,"v":0.07},{"s":"CL Low Degree","e":98,"v":0.074},{"s":"CL Low Degree","e":106,"v":0.066},{"s":"CL Low Degree","e":114,"v":0.077},{"s":"CL Low Degree","e":122,"v":0.066},{"s":"CL Low Degree","e":130,"v":0.072},{"s":"CL Low Degree","e":138,"v":0.061},{"s":"CL Low Degree","e":146,"v":0.071},{"s":"CL Low Degree","e":154,"v":0.064},{"s":"CL Low Degree","e":162,"v":0.071},{"s":"CL Low Degree","e":170,"v":0.059},{"s":"CL Low Degree","e":178,"v":0.066},{"s":"CL Low Degree","e":186,"v":0.059},{"s":"CL Low Degree","e":194,"v":0.068},{"s":"CL Low Degree","e":202,"v":0.057},{"s":"CL Low Degree","e":210,"v":0.062},{"s":"CL Low Degree","e":218,"v":0.066},{"s":"CL Low Degree","e":226,"v":0.053},{"s":"CL Low Degree","e":234,"v":0.063},{"s":"CL Low Degree","e":242,"v":0.057},{"s":"CL Low Degree","e":250,"v":0.064},{"s":"CL Low Degree","e":258,"v":0.053},{"s":"CL Low Degree","e":266,"v":0.061},{"s":"CL Low Degree","e":274,"v":0.053},{"s":"CL Low Degree","e":282,"v":0.064},{"s":"CL Low Degree","e":290,"v":0.055},{"s":"CL Low Degree","e":298,"v":0.061},{"s":"CL Low Degree","e":306,"v":0.051},{"s":"CL Low Degree","e":314,"v":0.061},{"s":"CL Low Degree","e":322,"v":0.053},{"s":"CL Low Degree","e":330,"v":0.062},{"s":"CL Low Degree","e":338,"v":0.051},{"s":"CL Low Degree","e":346,"v":0.057},{"s":"CL Low Degree","e":354,"v":0.061},{"s":"CL Low Degree","e":362,"v":0.049},{"s":"CL Low Degree","e":370,"v":0.059},{"s":"CL Low Degree","e":378,"v":0.053},{"s":"CL Low Degree","e":386,"v":0.06},{"s":"CL Low Degree","e":394,"v":0.049},{"s":"CL Low Degree","e":402,"v":0.057},{"s":"CL Low Degree","e":410,"v":0.05},{"s":"CL Low Degree","e":418,"v":0.061},{"s":"CL Low Degree","e":426,"v":0.05},{"s":"CL Low Degree","e":434,"v":0.057},{"s":"CL Low Degree","e":442,"v":0.047},{"s":"CL Low Degree","e":450,"v":0.058},{"s":"CL Low Degree","e":458,"v":0.051},{"s":"CL Low Degree","e":466,"v":0.059},{"s":"CL Low Degree","e":474,"v":0.047},{"s":"CL Low Degree","e":482,"v":0.055},{"s":"CL Low Degree","e":490,"v":0.049},{"s":"CL Low Degree","e":498,"v":0.059},{"s":"CL Low Degree","e":506,"v":0.048},{"s":"CL Low Degree","e":514,"v":0.054},{"s":"CL Low Degree","e":522,"v":0.058},{"s":"CL Low Degree","e":530,"v":0.046},{"s":"CL Low Degree","e":538,"v":0.056},{"s":"CL Low Degree","e":546,"v":0.05},{"s":"CL Low Degree","e":554,"v":0.058},{"s":"CL Low Degree","e":562,"v":0.047},{"s":"CL Low Degree","e":570,"v":0.055},{"s":"CL Low Degree","e":578,"v":0.048},{"s":"CL Low Degree","e":586,"v":0.059},{"s":"CL Low Degree","e":594,"v":0.05},{"s":"CL Low Degree","e":602,"v":0.056},{"s":"CL Low Degree","e":610,"v":0.046},{"s":"CL Low Degree","e":618,"v":0.057},{"s":"CL Low Degree","e":626,"v":0.049},{"s":"CL Low Degree","e":634,"v":0.058},{"s":"CL Low Degree","e":642,"v":0.047},{"s":"CL Low Degree","e":650,"v":0.054},{"s":"CL Low Degree","e":658,"v":0.058},{"s":"CL Low Degree","e":666,"v":0.046},{"s":"CL Low Degree","e":674,"v":0.056},{"s":"CL Low Degree","e":682,"v":0.05},{"s":"CL Low Degree","e":690,"v":0.058},{"s":"CL Low Degree","e":698,"v":0.047},{"s":"CL Low Degree","e":706,"v":0.055},{"s":"CL Low Degree","e":714,"v":0.048},{"s":"CL Low Degree","e":722,"v":0.059},{"s":"CL Low Degree","e":730,"v":0.049},{"s":"CL Low Degree","e":738,"v":0.056},{"s":"CL Low Degree","e":746,"v":0.053},{"s":"CL Low Degree","e":750,"v":0.055},
{"s":"ER High Degree","e":0,"v":0.02},{"s":"ER High Degree","e":1,"v":0.062},{"s":"ER High Degree","e":2,"v":0.05},{"s":"ER High Degree","e":4,"v":0.03},{"s":"ER High Degree","e":6,"v":0.018},{"s":"ER High Degree","e":9,"v":0.01},{"s":"ER High Degree","e":13,"v":0.006},{"s":"ER High Degree","e":20,"v":0.004},{"s":"ER High Degree","e":35,"v":0.007},{"s":"ER High Degree","e":50,"v":0.003},{"s":"ER High Degree","e":65,"v":0.006},{"s":"ER High Degree","e":80,"v":0.004},{"s":"ER High Degree","e":95,"v":0.007},{"s":"ER High Degree","e":110,"v":0.003},{"s":"ER High Degree","e":125,"v":0.006},{"s":"ER High Degree","e":140,"v":0.004},{"s":"ER High Degree","e":155,"v":0.007},{"s":"ER High Degree","e":170,"v":0.005},{"s":"ER High Degree","e":185,"v":0.008},{"s":"ER High Degree","e":200,"v":0.007},{"s":"ER High Degree","e":215,"v":0.01},{"s":"ER High Degree","e":230,"v":0.012},{"s":"ER High Degree","e":245,"v":0.011},{"s":"ER High Degree","e":260,"v":0.013},{"s":"ER High Degree","e":275,"v":0.009},{"s":"ER High Degree","e":290,"v":0.008},{"s":"ER High Degree","e":305,"v":0.006},{"s":"ER High Degree","e":320,"v":0.008},{"s":"ER High Degree","e":335,"v":0.005},{"s":"ER High Degree","e":350,"v":0.007},{"s":"ER High Degree","e":365,"v":0.004},{"s":"ER High Degree","e":380,"v":0.007},{"s":"ER High Degree","e":395,"v":0.005},{"s":"ER High Degree","e":410,"v":0.008},{"s":"ER High Degree","e":425,"v":0.004},{"s":"ER High Degree","e":440,"v":0.006},{"s":"ER High Degree","e":455,"v":0.005},{"s":"ER High Degree","e":470,"v":0.007},{"s":"ER High Degree","e":485,"v":0.004},{"s":"ER High Degree","e":500,"v":0.006},{"s":"ER High Degree","e":515,"v":0.005},{"s":"ER High Degree","e":530,"v":0.008},{"s":"ER High Degree","e":545,"v":0.004},{"s":"ER High Degree","e":560,"v":0.006},{"s":"ER High Degree","e":575,"v":0.005},{"s":"ER High Degree","e":590,"v":0.007},{"s":"ER High Degree","e":605,"v":0.004},{"s":"ER High Degree","e":620,"v":0.006},{"s":"ER High Degree","e":635,"v":0.005},{"s":"ER High Degree","e":650,"v":0.008},{"s":"ER High Degree","e":665,"v":0.004},{"s":"ER High Degree","e":680,"v":0.006},{"s":"ER High Degree","e":695,"v":0.005},{"s":"ER High Degree","e":710,"v":0.007},{"s":"ER High Degree","e":725,"v":0.004},{"s":"ER High Degree","e":740,"v":0.006},{"s":"ER High Degree","e":750,"v":0.005},
{"s":"ER Low Degree","e":0,"v":0.01},{"s":"ER Low Degree","e":1,"v":0.04},{"s":"ER Low Degree","e":2,"v":0.035},{"s":"ER Low Degree","e":4,"v":0.02},{"s":"ER Low Degree","e":6,"v":0.012},{"s":"ER Low Degree","e":9,"v":0.007},{"s":"ER Low Degree","e":13,"v":0.004},{"s":"ER Low Degree","e":20,"v":0.003},{"s":"ER Low Degree","e":40,"v":0.005},{"s":"ER Low Degree","e":60,"v":0.002},{"s":"ER Low Degree","e":80,"v":0.005},{"s":"ER Low Degree","e":100,"v":0.003},{"s":"ER Low Degree","e":120,"v":0.005},{"s":"ER Low Degree","e":140,"v":0.002},{"s":"ER Low Degree","e":160,"v":0.005},{"s":"ER Low Degree","e":180,"v":0.006},{"s":"ER Low Degree","e":200,"v":0.008},{"s":"ER Low Degree","e":220,"v":0.011},{"s":"ER Low Degree","e":240,"v":0.013},{"s":"ER Low Degree","e":260,"v":0.01},{"s":"ER Low Degree","e":280,"v":0.007},{"s":"ER Low Degree","e":300,"v":0.005},{"s":"ER Low Degree","e":330,"v":0.003},{"s":"ER Low Degree","e":360,"v":0.005},{"s":"ER Low Degree","e":390,"v":0.003},{"s":"ER Low Degree","e":420,"v":0.006},{"s":"ER Low Degree","e":450,"v":0.003},{"s":"ER Low Degree","e":480,"v":0.005},{"s":"ER Low Degree","e":510,"v":0.003},{"s":"ER Low Degree","e":540,"v":0.006},{"s":"ER Low Degree","e":570,"v":0.003},{"s":"ER Low Degree","e":600,"v":0.005},{"s":"ER Low Degree","e":630,"v":0.003},{"s":"ER Low Degree","e":660,"v":0.006},{"s":"ER Low Degree","e":690,"v":0.003},{"s":"ER Low Degree","e":720,"v":0.005},{"s":"ER Low Degree","e":750,"v":0.004},
{"s":"SBM High Degree","e":0,"v":0.1},{"s":"SBM High Degree","e":1,"v":0.13},{"s":"SBM High Degree","e":2,"v":0.16},{"s":"SBM High Degree","e":3,"v":0.15},{"s":"SBM High Degree","e":5,"v":0.12},{"s":"SBM High Degree","e":7,"v":0.095},{"s":"SBM High Degree","e":10,"v":0.077},{"s":"SBM High Degree","e":14,"v":0.062},{"s":"SBM High Degree","e":20,"v":0.05},{"s":"SBM High Degree","e":25,"v":0.042},{"s":"SBM High Degree","e":30,"v":0.036},{"s":"SBM High Degree","e":40,"v":0.029},{"s":"SBM High Degree","e":50,"v":0.025},{"s":"SBM High Degree","e":60,"v":0.022},{"s":"SBM High Degree","e":80,"v":0.019},{"s":"SBM High Degree","e":100,"v":0.017},{"s":"SBM High Degree","e":120,"v":0.015},{"s":"SBM High Degree","e":140,"v":0.014},{"s":"SBM High Degree","e":160,"v":0.014},{"s":"SBM High Degree","e":168,"v":0.016},{"s":"SBM High Degree","e":172,"v":0.021},{"s":"SBM High Degree","e":176,"v":0.03},{"s":"SBM High Degree","e":180,"v":0.04},{"s":"SBM High Degree","e":184,"v":0.05},{"s":"SBM High Degree","e":188,"v":0.058},{"s":"SBM High Degree","e":192,"v":0.063},{"s":"SBM High Degree","e":196,"v":0.06},{"s":"SBM High Degree","e":200,"v":0.062},{"s":"SBM High Degree","e":205,"v":0.056},{"s":"SBM High Degree","e":210,"v":0.057},{"s":"SBM High Degree","e":215,"v":0.051},{"s":"SBM High Degree","e":220,"v":0.049},{"s":"SBM High Degree","e":225,"v":0.045},{"s":"SBM High Degree","e":230,"v":0.043},{"s":"SBM High Degree","e":235,"v":0.038},{"s":"SBM High Degree","e":240,"v":0.036},{"s":"SBM High Degree","e":245,"v":0.032},{"s":"SBM High Degree","e":250,"v":0.03},{"s":"SBM High Degree","e":255,"v":0.027},{"s":"SBM High Degree","e":260,"v":0.025},{"s":"SBM High Degree","e":270,"v":0.022},{"s":"SBM High Degree","e":280,"v":0.019},{"s":"SBM High Degree","e":290,"v":0.017},{"s":"SBM High Degree","e":300,"v":0.015},{"s":"SBM High Degree","e":320,"v":0.014},{"s":"SBM High Degree","e":350,"v":0.013},{"s":"SBM High Degree","e":400,"v":0.012},{"s":"SBM High Degree","e":450,"v":0.012},{"s":"SBM High Degree","e":500,"v":0.011},{"s":"SBM High Degree","e":600,"v":0.011},{"s":"SBM High Degree","e":750,"v":0.011},
{"s":"SBM Low Degree","e":0,"v":0.1},{"s":"SBM Low Degree","e":1,"v":0.14},{"s":"SBM Low Degree","e":2,"v":0.17},{"s":"SBM Low Degree","e":3,"v":0.16},{"s":"SBM Low Degree","e":5,"v":0.13},{"s":"SBM Low Degree","e":7,"v":0.1},{"s":"SBM Low Degree","e":10,"v":0.08},{"s":"SBM Low Degree","e":14,"v":0.065},{"s":"SBM Low Degree","e":20,"v":0.052},{"s":"SBM Low Degree","e":25,"v":0.043},{"s":"SBM Low Degree","e":30,"v":0.037},{"s":"SBM Low Degree","e":40,"v":0.03},{"s":"SBM Low Degree","e":50,"v":0.026},{"s":"SBM Low Degree","e":60,"v":0.023},{"s":"SBM Low Degree","e":80,"v":0.02},{"s":"SBM Low Degree","e":100,"v":0.018},{"s":"SBM Low Degree","e":120,"v":0.016},{"s":"SBM Low Degree","e":140,"v":0.015},{"s":"SBM Low Degree","e":160,"v":0.015},{"s":"SBM Low Degree","e":168,"v":0.017},{"s":"SBM Low Degree","e":172,"v":0.022},{"s":"SBM Low Degree","e":176,"v":0.032},{"s":"SBM Low Degree","e":180,"v":0.042},{"s":"SBM Low Degree","e":184,"v":0.052},{"s":"SBM Low Degree","e":188,"v":0.06},{"s":"SBM Low Degree","e":191,"v":0.066},{"s":"SBM Low Degree","e":194,"v":0.062},{"s":"SBM Low Degree","e":197,"v":0.067},{"s":"SBM Low Degree","e":200,"v":0.06},{"s":"SBM Low Degree","e":203,"v":0.064},{"s":"SBM Low Degree","e":206,"v":0.055},{"s":"SBM Low Degree","e":209,"v":0.06},{"s":"SBM Low Degree","e":212,"v":0.052},{"s":"SBM Low Degree","e":215,"v":0.056},{"s":"SBM Low Degree","e":218,"v":0.047},{"s":"SBM Low Degree","e":221,"v":0.053},{"s":"SBM Low Degree","e":224,"v":0.043},{"s":"SBM Low Degree","e":227,"v":0.049},{"s":"SBM Low Degree","e":230,"v":0.04},{"s":"SBM Low Degree","e":233,"v":0.046},{"s":"SBM Low Degree","e":236,"v":0.035},{"s":"SBM Low Degree","e":239,"v":0.042},{"s":"SBM Low Degree","e":242,"v":0.032},{"s":"SBM Low Degree","e":245,"v":0.038},{"s":"SBM Low Degree","e":248,"v":0.028},{"s":"SBM Low Degree","e":251,"v":0.034},{"s":"SBM Low Degree","e":254,"v":0.025},{"s":"SBM Low Degree","e":257,"v":0.031},{"s":"SBM Low Degree","e":260,"v":0.023},{"s":"SBM Low Degree","e":264,"v":0.028},{"s":"SBM Low Degree","e":268,"v":0.02},{"s":"SBM Low Degree","e":272,"v":0.026},{"s":"SBM Low Degree","e":276,"v":0.018},{"s":"SBM Low Degree","e":280,"v":0.023},{"s":"SBM Low Degree","e":285,"v":0.016},{"s":"SBM Low Degree","e":290,"v":0.021},{"s":"SBM Low Degree","e":295,"v":0.015},{"s":"SBM Low Degree","e":300,"v":0.019},{"s":"SBM Low Degree","e":310,"v":0.012},{"s":"SBM Low Degree","e":320,"v":0.017},{"s":"SBM Low Degree","e":330,"v":0.011},{"s":"SBM Low Degree","e":340,"v":0.016},{"s":"SBM Low Degree","e":350,"v":0.012},{"s":"SBM Low Degree","e":360,"v":0.017},{"s":"SBM Low Degree","e":370,"v":0.011},{"s":"SBM Low Degree","e":380,"v":0.015},{"s":"SBM Low Degree","e":390,"v":0.012},{"s":"SBM Low Degree","e":400,"v":0.016},{"s":"SBM Low Degree","e":410,"v":0.011},{"s":"SBM Low Degree","e":420,"v":0.015},{"s":"SBM Low Degree","e":430,"v":0.012},{"s":"SBM Low Degree","e":440,"v":0.016},{"s":"SBM Low Degree","e":450,"v":0.011},{"s":"SBM Low Degree","e":460,"v":0.015},{"s":"SBM Low Degree","e":470,"v":0.012},{"s":"SBM Low Degree","e":480,"v":0.016},{"s":"SBM Low Degree","e":490,"v":0.011},{"s":"SBM Low Degree","e":500,"v":0.015},{"s":"SBM Low Degree","e":510,"v":0.012},{"s":"SBM Low Degree","e":520,"v":0.016},{"s":"SBM Low Degree","e":530,"v":0.011},{"s":"SBM Low Degree","e":540,"v":0.015},{"s":"SBM Low Degree","e":550,"v":0.012},{"s":"SBM Low Degree","e":560,"v":0.016},{"s":"SBM Low Degree","e":570,"v":0.011},{"s":"SBM Low Degree","e":580,"v":0.015},{"s":"SBM Low Degree","e":590,"v":0.012},{"s":"SBM Low Degree","e":600,"v":0.016},{"s":"SBM Low Degree","e":610,"v":0.011},{"s":"SBM Low Degree","e":620,"v":0.015},{"s":"SBM Low Degree","e":630,"v":0.012},{"s":"SBM Low Degree","e":640,"v":0.016},{"s":"SBM Low Degree","e":650,"v":0.011},{"s":"SBM Low Degree","e":660,"v":0.015},{"s":"SBM Low Degree","e":670,"v":0.012},{"s":"SBM Low Degree","e":680,"v":0.016},{"s":"SBM Low Degree","e":690,"v":0.011},{"s":"SBM Low Degree","e":700,"v":0.015},{"s":"SBM Low Degree","e":710,"v":0.012},{"s":"SBM Low Degree","e":720,"v":0.016},{"s":"SBM Low Degree","e":730,"v":0.011},{"s":"SBM Low Degree","e":740,"v":0.015},{"s":"SBM Low Degree","e":750,"v":0.013}
],
"edits": [
{"s":"PA High Degree","e":0,"v":1290},{"s":"PA High Degree","e":3,"v":1310},{"s":"PA High Degree","e":6,"v":1328},{"s":"PA High Degree","e":10,"v":1343},{"s":"PA High Degree","e":15,"v":1355},{"s":"PA High Degree","e":20,"v":1362},{"s":"PA High Degree","e":30,"v":1370},{"s":"PA High Degree","e":50,"v":1376},{"s":"PA High Degree","e":80,"v":1379},{"s":"PA High Degree","e":154,"v":1380},{"s":"PA High Degree","e":155,"v":1300},{"s":"PA High Degree","e":156,"v":1100},{"s":"PA High Degree","e":157,"v":850},{"s":"PA High Degree","e":158,"v":650},{"s":"PA High Degree","e":160,"v":450},{"s":"PA High Degree","e":163,"v":320},{"s":"PA High Degree","e":167,"v":240},{"s":"PA High Degree","e":172,"v":175},{"s":"PA High Degree","e":178,"v":125},{"s":"PA High Degree","e":185,"v":85},{"s":"PA High Degree","e":193,"v":55},{"s":"PA High Degree","e":202,"v":33},{"s":"PA High Degree","e":212,"v":18},{"s":"PA High Degree","e":225,"v":8},{"s":"PA High Degree","e":240,"v":3},{"s":"PA High Degree","e":260,"v":0},{"s":"PA High Degree","e":750,"v":0},
{"s":"PA Low Degree","e":0,"v":1215},{"s":"PA Low Degree","e":3,"v":1238},{"s":"PA Low Degree","e":6,"v":1258},{"s":"PA Low Degree","e":10,"v":1275},{"s":"PA Low Degree","e":15,"v":1288},{"s":"PA Low Degree","e":20,"v":1296},{"s":"PA Low Degree","e":30,"v":1303},{"s":"PA Low Degree","e":50,"v":1308},{"s":"PA Low Degree","e":80,"v":1310},{"s":"PA Low Degree","e":154,"v":1311},{"s":"PA Low Degree","e":156,"v":1200},{"s":"PA Low Degree","e":157,"v":1000},{"s":"PA Low Degree","e":158,"v":800},{"s":"PA Low Degree","e":159,"v":620},{"s":"PA Low Degree","e":161,"v":470},{"s":"PA Low Degree","e":164,"v":350},{"s":"PA Low Degree","e":168,"v":260},{"s":"PA Low Degree","e":173,"v":190},{"s":"PA Low Degree","e":180,"v":130},{"s":"PA Low Degree","e":188,"v":85},{"s":"PA Low Degree","e":197,"v":52},{"s":"PA Low Degree","e":207,"v":30},{"s":"PA Low Degree","e":218,"v":15},{"s":"PA Low Degree","e":230,"v":6},{"s":"PA Low Degree","e":250,"v":1},{"s":"PA Low Degree","e":270,"v":0},{"s":"PA Low Degree","e":750,"v":0},
{"s":"CL High Degree","e":0,"v":815},{"s":"CL High Degree","e":3,"v":830},{"s":"CL High Degree","e":6,"v":843},{"s":"CL High Degree","e":10,"v":856},{"s":"CL High Degree","e":15,"v":868},{"s":"CL High Degree","e":20,"v":877},{"s":"CL High Degree","e":30,"v":887},{"s":"CL High Degree","e":45,"v":895},{"s":"CL High Degree","e":60,"v":899},{"s":"CL High Degree","e":90,"v":902},{"s":"CL High Degree","e":120,"v":903},{"s":"CL High Degree","e":152,"v":903},{"s":"CL High Degree","e":153,"v":800},{"s":"CL High Degree","e":154,"v":650},{"s":"CL High Degree","e":155,"v":520},{"s":"CL High Degree","e":157,"v":400},{"s":"CL High Degree","e":159,"v":340},{"s":"CL High Degree","e":161,"v":290},{"s":"CL High Degree","e":165,"v":225},{"s":"CL High Degree","e":170,"v":175},{"s":"CL High Degree","e":176,"v":140},{"s":"CL High Degree","e":183,"v":115},{"s":"CL High Degree","e":190,"v":100},{"s":"CL High Degree","e":200,"v":92},{"s":"CL High Degree","e":215,"v":84},{"s":"CL High Degree","e":230,"v":77},{"s":"CL High Degree","e":244,"v":68},{"s":"CL High Degree","e":270,"v":60},{"s":"CL High Degree","e":300,"v":53},{"s":"CL High Degree","e":350,"v":45},{"s":"CL High Degree","e":400,"v":38},{"s":"CL High Degree","e":450,"v":31},{"s":"CL High Degree","e":500,"v":25},{"s":"CL High Degree","e":550,"v":20},{"s":"CL High Degree","e":600,"v":15},{"s":"CL High Degree","e":650,"v":11},{"s":"CL High Degree","e":700,"v":7},{"s":"CL High Degree","e":750,"v":4},
{"s":"CL Low Degree","e":0,"v":655},{"s":"CL Low Degree","e":3,"v":668},{"s":"CL Low Degree","e":6,"v":679},{"s":"CL Low Degree","e":10,"v":688},{"s":"CL Low Degree","e":15,"v":695},{"s":"CL Low Degree","e":20,"v":699},{"s":"CL Low Degree","e":30,"v":702},{"s":"CL Low Degree","e":45,"v":703},{"s":"CL Low Degree","e":60,"v":703},{"s":"CL Low Degree","e":90,"v":701},{"s":"CL Low Degree","e":120,"v":697},{"s":"CL Low Degree","e":140,"v":690},{"s":"CL Low Degree","e":152,"v":683},{"s":"CL Low Degree","e":153,"v":600},{"s":"CL Low Degree","e":154,"v":480},{"s":"CL Low Degree","e":155,"v":400},{"s":"CL Low Degree","e":157,"v":300},{"s":"CL Low Degree","e":159,"v":250},{"s":"CL Low Degree","e":161,"v":215},{"s":"CL Low Degree","e":165,"v":165},{"s":"CL Low Degree","e":169,"v":128},{"s":"CL Low Degree","e":175,"v":90},{"s":"CL Low Degree","e":181,"v":64},{"s":"CL Low Degree","e":188,"v":43},{"s":"CL Low Degree","e":197,"v":24},{"s":"CL Low Degree","e":206,"v":13},{"s":"CL Low Degree","e":218,"v":5},{"s":"CL Low Degree","e":230,"v":2},{"s":"CL Low Degree","e":250,"v":0},{"s":"CL Low Degree","e":750,"v":0},
{"s":"ER High Degree","e":0,"v":4730},{"s":"ER High Degree","e":3,"v":4785},{"s":"ER High Degree","e":6,"v":4825},{"s":"ER High Degree","e":10,"v":4860},{"s":"ER High Degree","e":15,"v":4885},{"s":"ER High Degree","e":20,"v":4900},{"s":"ER High Degree","e":30,"v":4915},{"s":"ER High Degree","e":45,"v":4924},{"s":"ER High Degree","e":60,"v":4928},{"s":"ER High Degree","e":90,"v":4931},{"s":"ER High Degree","e":157,"v":4932},{"s":"ER High Degree","e":158,"v":4650},{"s":"ER High Degree","e":159,"v":4150},{"s":"ER High Degree","e":160,"v":3450},{"s":"ER High Degree","e":161,"v":2650},{"s":"ER High Degree","e":162,"v":1950},{"s":"ER High Degree","e":163,"v":1470},{"s":"ER High Degree","e":164,"v":1120},{"s":"ER High Degree","e":166,"v":830},{"s":"ER High Degree","e":168,"v":685},{"s":"ER High Degree","e":171,"v":550},{"s":"ER High Degree","e":175,"v":420},{"s":"ER High Degree","e":180,"v":315},{"s":"ER High Degree","e":186,"v":225},{"s":"ER High Degree","e":193,"v":155},{"s":"ER High Degree","e":200,"v":107},{"s":"ER High Degree","e":210,"v":66},{"s":"ER High Degree","e":220,"v":41},{"s":"ER High Degree","e":232,"v":21},{"s":"ER High Degree","e":245,"v":10},{"s":"ER High Degree","e":260,"v":4},{"s":"ER High Degree","e":280,"v":1},{"s":"ER High Degree","e":320,"v":0},{"s":"ER High Degree","e":750,"v":0},
{"s":"ER Low Degree","e":0,"v":4700},{"s":"ER Low Degree","e":3,"v":4750},{"s":"ER Low Degree","e":6,"v":4790},{"s":"ER Low Degree","e":10,"v":4822},{"s":"ER Low Degree","e":15,"v":4848},{"s":"ER Low Degree","e":20,"v":4862},{"s":"ER Low Degree","e":30,"v":4876},{"s":"ER Low Degree","e":45,"v":4884},{"s":"ER Low Degree","e":60,"v":4888},{"s":"ER Low Degree","e":90,"v":4890},{"s":"ER Low Degree","e":157,"v":4891},{"s":"ER Low Degree","e":159,"v":4500},{"s":"ER Low Degree","e":160,"v":3900},{"s":"ER Low Degree","e":161,"v":3200},{"s":"ER Low Degree","e":162,"v":2500},{"s":"ER Low Degree","e":163,"v":1900},{"s":"ER Low Degree","e":164,"v":1450},{"s":"ER Low Degree","e":165,"v":1150},{"s":"ER Low Degree","e":167,"v":880},{"s":"ER Low Degree","e":169,"v":720},{"s":"ER Low Degree","e":172,"v":580},{"s":"ER Low Degree","e":176,"v":450},{"s":"ER Low Degree","e":181,"v":340},{"s":"ER Low Degree","e":187,"v":245},{"s":"ER Low Degree","e":194,"v":170},{"s":"ER Low Degree","e":202,"v":115},{"s":"ER Low Degree","e":212,"v":72},{"s":"ER Low Degree","e":222,"v":45},{"s":"ER Low Degree","e":234,"v":23},{"s":"ER Low Degree","e":248,"v":10},{"s":"ER Low Degree","e":263,"v":4},{"s":"ER Low Degree","e":285,"v":1},{"s":"ER Low Degree","e":325,"v":0},{"s":"ER Low Degree","e":750,"v":0},
{"s":"SBM High Degree","e":0,"v":4760},{"s":"SBM High Degree","e":3,"v":4810},{"s":"SBM High Degree","e":6,"v":4850},{"s":"SBM High Degree","e":10,"v":4885},{"s":"SBM High Degree","e":15,"v":4910},{"s":"SBM High Degree","e":20,"v":4928},{"s":"SBM High Degree","e":30,"v":4948},{"s":"SBM High Degree","e":45,"v":4962},{"s":"SBM High Degree","e":60,"v":4970},{"s":"SBM High Degree","e":90,"v":4976},{"s":"SBM High Degree","e":120,"v":4979},{"s":"SBM High Degree","e":157,"v":4980},{"s":"SBM High Degree","e":158,"v":4700},{"s":"SBM High Degree","e":159,"v":4200},{"s":"SBM High Degree","e":160,"v":3500},{"s":"SBM High Degree","e":161,"v":2700},{"s":"SBM High Degree","e":162,"v":2000},{"s":"SBM High Degree","e":163,"v":1500},{"s":"SBM High Degree","e":164,"v":1150},{"s":"SBM High Degree","e":166,"v":850},{"s":"SBM High Degree","e":168,"v":700},{"s":"SBM High Degree","e":171,"v":560},{"s":"SBM High Degree","e":175,"v":430},{"s":"SBM High Degree","e":180,"v":320},{"s":"SBM High Degree","e":186,"v":230},{"s":"SBM High Degree","e":193,"v":160},{"s":"SBM High Degree","e":200,"v":110},{"s":"SBM High Degree","e":210,"v":68},{"s":"SBM High Degree","e":220,"v":42},{"s":"SBM High Degree","e":232,"v":22},{"s":"SBM High Degree","e":245,"v":10},{"s":"SBM High Degree","e":260,"v":4},{"s":"SBM High Degree","e":280,"v":1},{"s":"SBM High Degree","e":320,"v":0},{"s":"SBM High Degree","e":750,"v":0},
{"s":"SBM Low Degree","e":0,"v":4660},{"s":"SBM Low Degree","e":3,"v":4710},{"s":"SBM Low Degree","e":6,"v":4745},{"s":"SBM Low Degree","e":10,"v":4775},{"s":"SBM Low Degree","e":15,"v":4800},{"s":"SBM Low Degree","e":20,"v":4815},{"s":"SBM Low Degree","e":30,"v":4832},{"s":"SBM Low Degree","e":45,"v":4843},{"s":"SBM Low Degree","e":60,"v":4849},{"s":"SBM Low Degree","e":90,"v":4853},{"s":"SBM Low Degree","e":157,"v":4855},{"s":"SBM Low Degree","e":160,"v":4600},{"s":"SBM Low Degree","e":161,"v":4100},{"s":"SBM Low Degree","e":162,"v":3500},{"s":"SBM Low Degree","e":163,"v":2900},{"s":"SBM Low Degree","e":164,"v":2300},{"s":"SBM Low Degree","e":165,"v":1800},{"s":"SBM Low Degree","e":166,"v":1450},{"s":"SBM Low Degree","e":168,"v":1050},{"s":"SBM Low Degree","e":170,"v":820},{"s":"SBM Low Degree","e":173,"v":640},{"s":"SBM Low Degree","e":177,"v":500},{"s":"SBM Low Degree","e":182,"v":380},{"s":"SBM Low Degree","e":188,"v":280},{"s":"SBM Low Degree","e":195,"v":200},{"s":"SBM Low Degree","e":203,"v":140},{"s":"SBM Low Degree","e":212,"v":92},{"s":"SBM Low Degree","e":222,"v":58},{"s":"SBM Low Degree","e":235,"v":30},{"s":"SBM Low Degree","e":250,"v":13},{"s":"SBM Low Degree","e":265,"v":5},{"s":"SBM Low Degree","e":290,"v":1},{"s":"SBM Low Degree","e":330,"v":0},{"s":"SBM Low Degree","e":750,"v":0}
]
}
}
